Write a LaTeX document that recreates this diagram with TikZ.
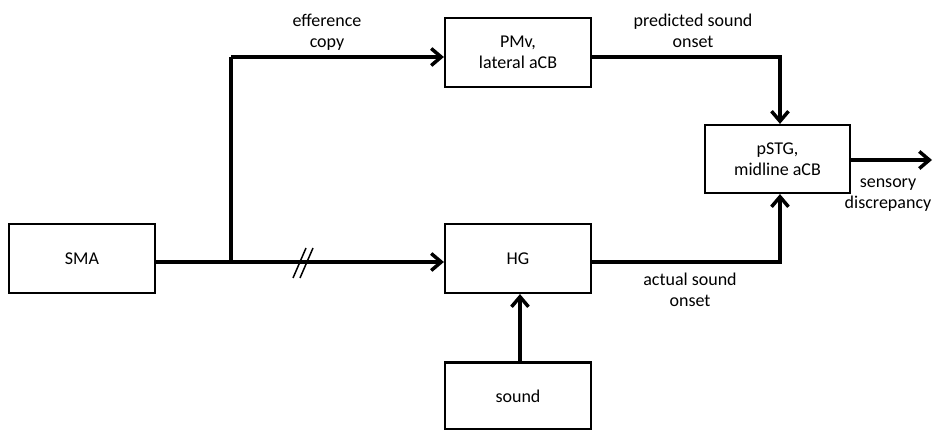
\documentclass[tikz,border=0pt]{standalone}
\usepackage{fontspec}
\setmainfont{Carlito}
\usetikzlibrary{arrows.meta}
\begin{document}
\begin{tikzpicture}[x=1pt,y=-1pt,
  box/.style={draw,line width=2.2pt,minimum width=146pt,minimum height=69pt,inner sep=0pt,
    align=center,font=\fontsize{18}{21.5}\selectfont},
  flow/.style={line width=3.5pt,-{Straight Barb[length=10pt,width=17pt]}},
  wire/.style={line width=3.5pt},
  lbl/.style={align=center,inner sep=0pt,font=\fontsize{18}{21.5}\selectfont}]
\useasboundingbox[fill=white] (0,0) rectangle (934,430);

% areas
\node[box] (sma)   at (82,258.5)  {SMA};
\node[box] (pmv)   at (518,52.5)  {PMv,\\lateral aCB};
\node[box] (hg)    at (518,258.5) {HG};
\node[box,minimum height=67pt] (snd) at (518,396) {sound};
\node[box,minimum width=145pt,minimum height=68pt] (pstg) at (777.5,159) {pSTG,\\midline aCB};

% routing points
\coordinate (j)  at (231,262);
\coordinate (ec) at (231,57);
\coordinate (pr) at (780,57);
\coordinate (ac) at (780,262);
\coordinate (out) at (932,160);

% SMA to HG, with efference copy branch to PMv
\draw[wire] (sma.east |- j) -- (j);
\draw[flow] (j) -- (hg.west |- j);
\draw[wire] (j) -- (ec);
\draw[flow] (ec) -- (pmv.west |- ec);

% delay mark on the SMA-HG path
\draw[line width=1.5pt] (293,278) -- (306,248);
\draw[line width=1.5pt] (300,278) -- (313,248);

% predicted and actual onset into pSTG
\draw[flow] (pmv.east |- pr) -- (pr) -- (pstg.north -| pr);
\draw[flow] (hg.east |- ac) -- (ac) -- (pstg.south -| ac);

% sound into HG
\draw[flow] (snd.north -| 520,0) -- (hg.south -| 520,0);

% output
\draw[flow] (pstg.east |- out) -- (out);

% labels
\node[lbl] (l1) at (327,32)   {efference\\copy};
\node[lbl] (l2) at (693,31)   {predicted sound\\onset};
\node[lbl] (l3) at (690,290)  {actual sound\\onset};
\node[lbl] (l4) at (888,195)  {sensory\\discrepancy};
\end{tikzpicture}
\end{document}
